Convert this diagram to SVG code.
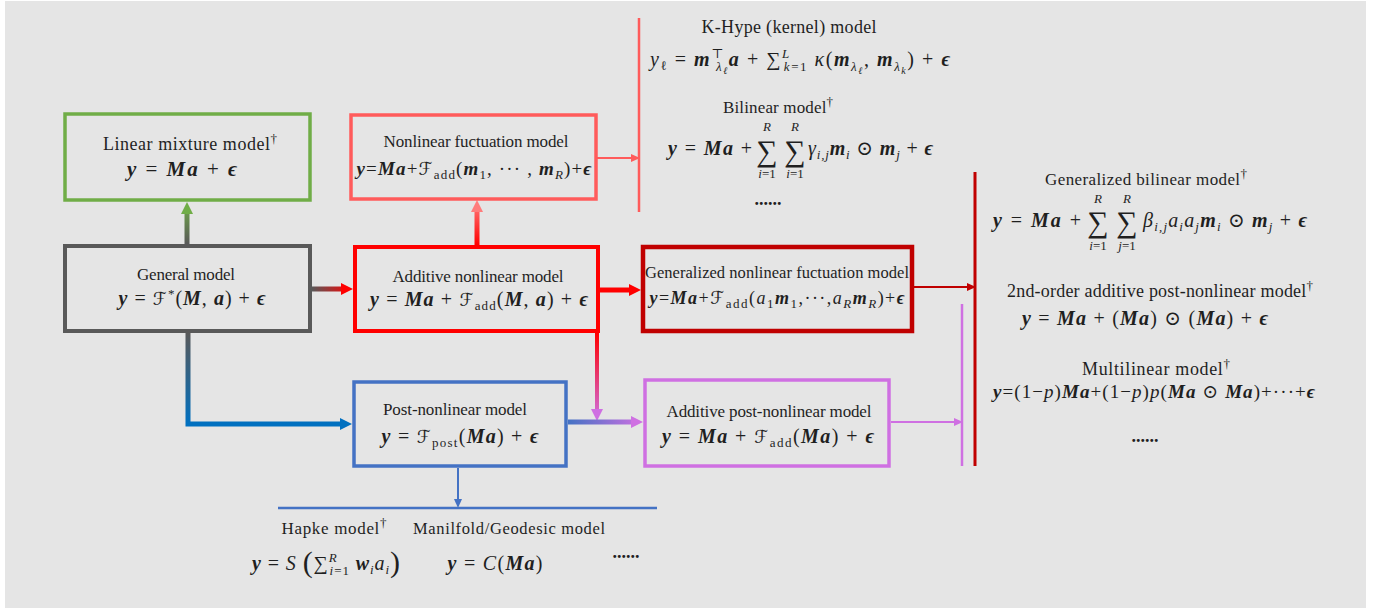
<svg xmlns="http://www.w3.org/2000/svg" width="1379" height="610" viewBox="0 0 1379 610">
<style>
text{font-family:"Liberation Serif","DejaVu Serif","Times New Roman",serif;fill:#1f1f1f}
.t{font-size:17px;text-anchor:middle}
.m{font-size:20px;text-anchor:middle}
.st{text-anchor:start}
.en{text-anchor:end}
.b{font-weight:bold;font-style:italic}
.i{font-style:italic}
.s{font-size:13px}
.ss{font-size:10px}
.cal{font-family:"DejaVu Serif","DejaVu Sans",serif;font-style:normal;font-size:18px}
.sum{font-size:30px}
.box{fill:none}
.dots{font-weight:bold;font-size:18px}
</style>
<defs>
<marker id="hG" viewBox="0 0 12 12" refX="0" refY="6" markerWidth="12" markerHeight="12" markerUnits="userSpaceOnUse" orient="auto"><path d="M0,0 L12,6 L0,12 z" fill="#70ad47"/></marker>
<marker id="hR" viewBox="0 0 12 12" refX="0" refY="6" markerWidth="12" markerHeight="12" markerUnits="userSpaceOnUse" orient="auto"><path d="M0,0 L12,6 L0,12 z" fill="#f00"/></marker>
<marker id="hLR" viewBox="0 0 12 12" refX="0" refY="6" markerWidth="12" markerHeight="12" markerUnits="userSpaceOnUse" orient="auto"><path d="M0,0 L12,6 L0,12 z" fill="#ff7c7c"/></marker>
<marker id="hB" viewBox="0 0 12 12" refX="0" refY="6" markerWidth="12" markerHeight="12" markerUnits="userSpaceOnUse" orient="auto"><path d="M0,0 L12,6 L0,12 z" fill="#0070c0"/></marker>
<marker id="hV" viewBox="0 0 12 12" refX="0" refY="6" markerWidth="12" markerHeight="12" markerUnits="userSpaceOnUse" orient="auto"><path d="M0,0 L12,6 L0,12 z" fill="#cf70e2"/></marker>
<marker id="sLR" viewBox="0 0 9 8" refX="0" refY="4" markerWidth="9" markerHeight="8" markerUnits="userSpaceOnUse" orient="auto"><path d="M0,0 L9,4 L0,8 z" fill="#ff5b5b"/></marker>
<marker id="sDR" viewBox="0 0 9 8" refX="0" refY="4" markerWidth="9" markerHeight="8" markerUnits="userSpaceOnUse" orient="auto"><path d="M0,0 L9,4 L0,8 z" fill="#c00000"/></marker>
<marker id="sV" viewBox="0 0 9 8" refX="0" refY="4" markerWidth="9" markerHeight="8" markerUnits="userSpaceOnUse" orient="auto"><path d="M0,0 L9,4 L0,8 z" fill="#cf70e2"/></marker>
<marker id="sB" viewBox="0 0 9 8" refX="0" refY="4" markerWidth="9" markerHeight="8" markerUnits="userSpaceOnUse" orient="auto"><path d="M0,0 L9,4 L0,8 z" fill="#4472c4"/></marker>
<linearGradient id="gGL" gradientUnits="userSpaceOnUse" x1="0" y1="244" x2="0" y2="202"><stop offset="0" stop-color="#595959"/><stop offset="1" stop-color="#70ad47"/></linearGradient>
<linearGradient id="gGR" gradientUnits="userSpaceOnUse" x1="312" y1="0" x2="353" y2="0"><stop offset="0" stop-color="#595959"/><stop offset="1" stop-color="#ff0000"/></linearGradient>
<linearGradient id="gRL" gradientUnits="userSpaceOnUse" x1="0" y1="245" x2="0" y2="200"><stop offset="0" stop-color="#ff0000"/><stop offset="1" stop-color="#ff8080"/></linearGradient>
<linearGradient id="gRV" gradientUnits="userSpaceOnUse" x1="0" y1="333" x2="0" y2="420"><stop offset="0" stop-color="#ff0000"/><stop offset="1" stop-color="#cf70e2"/></linearGradient>
<linearGradient id="gGB" gradientUnits="userSpaceOnUse" x1="0" y1="333" x2="0" y2="424"><stop offset="0" stop-color="#595959"/><stop offset="1" stop-color="#0070c0"/></linearGradient>
<linearGradient id="gBV" gradientUnits="userSpaceOnUse" x1="568" y1="0" x2="643" y2="0"><stop offset="0" stop-color="#4472c4"/><stop offset="1" stop-color="#cf70e2"/></linearGradient>
</defs>
<rect x="5" y="1" width="1361" height="607" fill="#e5e5e5"/>

<g id="connectors" fill="none">
<line x1="187" y1="244" x2="187" y2="214" stroke="url(#gGL)" stroke-width="5" marker-end="url(#hG)"/>
<line x1="312" y1="289" x2="341" y2="289" stroke="url(#gGR)" stroke-width="5" marker-end="url(#hR)"/>
<line x1="477" y1="245" x2="477" y2="212" stroke="url(#gRL)" stroke-width="5" marker-end="url(#hLR)"/>
<line x1="600" y1="290" x2="629" y2="290" stroke="#f00" stroke-width="5" marker-end="url(#hR)"/>
<line x1="597" y1="333" x2="597" y2="409" stroke="url(#gRV)" stroke-width="4" marker-end="url(#hV)"/>
<path d="M188,333 V424 H340" stroke="url(#gGB)" stroke-width="5" marker-end="url(#hB)"/>
<line x1="568" y1="422" x2="631" y2="422" stroke="url(#gBV)" stroke-width="5" marker-end="url(#hV)"/>
<line x1="597" y1="158" x2="631" y2="158" stroke="#ff5b5b" stroke-width="2" marker-end="url(#sLR)"/>
<line x1="914" y1="287" x2="967" y2="287" stroke="#c00000" stroke-width="2" marker-end="url(#sDR)"/>
<line x1="891" y1="422" x2="954" y2="422" stroke="#cf70e2" stroke-width="2" marker-end="url(#sV)"/>
<line x1="458" y1="468" x2="458" y2="499" stroke="#4472c4" stroke-width="2" marker-end="url(#sB)"/>
<line x1="639" y1="18" x2="639" y2="212" stroke="#ff5b5b" stroke-width="2.5"/>
<line x1="975" y1="172" x2="975" y2="466" stroke="#c00000" stroke-width="3"/>
<line x1="962" y1="304" x2="962" y2="466" stroke="#cf70e2" stroke-width="2.5"/>
<line x1="278" y1="508" x2="657" y2="508" stroke="#4472c4" stroke-width="2.5"/>
</g>

<g id="linear">
<rect class="box" x="65" y="114" width="245" height="86" stroke="#70ad47" stroke-width="3.5"/>
<text class="t" x="190" y="150" style="font-size:18px" textLength="174">Linear mixture model<tspan class="s" dy="-7">†</tspan></text>
<text class="m" x="182" y="176" style="font-size:21px" textLength="110"><tspan class="b">y</tspan> = <tspan class="b">Ma</tspan> + <tspan class="b">ϵ</tspan></text>
</g>

<g id="general">
<rect class="box" x="65" y="246" width="245" height="85" stroke="#595959" stroke-width="4"/>
<text class="t" x="186" y="280" textLength="98">General model</text>
<text class="m" x="192" y="305" textLength="147"><tspan class="b">y</tspan> = <tspan class="cal">ℱ</tspan><tspan class="s" dy="-7">*</tspan><tspan dy="7">(</tspan><tspan class="b">M</tspan>, <tspan class="b">a</tspan>) + <tspan class="b">ϵ</tspan></text>
</g>

<g id="nonlinear-fluctuation">
<rect class="box" x="351" y="115" width="245" height="84" stroke="#ff5b5b" stroke-width="3.5"/>
<text class="t" x="476" y="147" textLength="185">Nonlinear fuctuation model</text>
<text class="m" x="474" y="175" style="font-size:19px" textLength="235"><tspan class="b">y</tspan>=<tspan class="b">Ma</tspan>+<tspan class="cal">ℱ</tspan><tspan class="s" dy="4">add</tspan><tspan dy="-4">(</tspan><tspan class="b">m</tspan><tspan class="s" dy="4">1</tspan><tspan dy="-4">, ··· , </tspan><tspan class="b">m</tspan><tspan class="s i" dy="4">R</tspan><tspan dy="-4">)+</tspan><tspan class="b">ϵ</tspan></text>
</g>

<g id="additive-nonlinear">
<rect class="box" x="355" y="247" width="243" height="84" stroke="#ff0000" stroke-width="4"/>
<text class="t" x="478" y="282" textLength="171">Additive nonlinear model</text>
<text class="m" x="479" y="306" textLength="218"><tspan class="b">y</tspan> = <tspan class="b">Ma</tspan> + <tspan class="cal">ℱ</tspan><tspan class="s" dy="4">add</tspan><tspan dy="-4">(</tspan><tspan class="b">M</tspan>, <tspan class="b">a</tspan>) + <tspan class="b">ϵ</tspan></text>
</g>

<g id="generalized-nonlinear-fluctuation">
<rect class="box" x="643" y="247" width="269" height="84" stroke="#c00000" stroke-width="4.5"/>
<text class="t" x="777" y="278" style="font-size:16.5px" textLength="264">Generalized nonlinear fuctuation model</text>
<text class="m" x="777" y="304" style="font-size:18px" textLength="255"><tspan class="b">y</tspan>=<tspan class="b">Ma</tspan>+<tspan class="cal">ℱ</tspan><tspan class="s" dy="4">add</tspan><tspan dy="-4">(</tspan><tspan class="i">a</tspan><tspan class="s" dy="4">1</tspan><tspan class="b" dy="-4">m</tspan><tspan class="s" dy="4">1</tspan><tspan dy="-4">,···,</tspan><tspan class="i">a</tspan><tspan class="s i" dy="4">R</tspan><tspan class="b" dy="-4">m</tspan><tspan class="s i" dy="4">R</tspan><tspan dy="-4">)+</tspan><tspan class="b">ϵ</tspan></text>
</g>

<g id="post-nonlinear">
<rect class="box" x="354" y="382" width="212" height="84" stroke="#4472c4" stroke-width="3.5"/>
<text class="t" x="455" y="415" textLength="144">Post-nonlinear model</text>
<text class="m" x="460" y="443" textLength="157"><tspan class="b">y</tspan> = <tspan class="cal">ℱ</tspan><tspan class="s" dy="4">post</tspan><tspan dy="-4">(</tspan><tspan class="b">Ma</tspan>) + <tspan class="b">ϵ</tspan></text>
</g>

<g id="additive-post-nonlinear">
<rect class="box" x="645" y="380" width="244" height="86" stroke="#cf70e2" stroke-width="3.5"/>
<text class="t" x="769" y="417" textLength="205">Additive post-nonlinear model</text>
<text class="m" x="768" y="443" textLength="212"><tspan class="b">y</tspan> = <tspan class="b">Ma</tspan> + <tspan class="cal">ℱ</tspan><tspan class="s" dy="4">add</tspan><tspan dy="-4">(</tspan><tspan class="b">Ma</tspan>) + <tspan class="b">ϵ</tspan></text>
</g>

<g id="khype">
<text class="t" x="789" y="33" style="font-size:18px" textLength="175">K-Hype (kernel) model</text>
<text class="m" x="800" y="66" textLength="300"><tspan class="i">y</tspan><tspan class="s" dy="4">ℓ</tspan><tspan dy="-4"> = </tspan><tspan class="b">m</tspan><tspan class="s" dy="-8">⊤</tspan><tspan class="s i" dx="-9" dy="13">λ</tspan><tspan class="ss i" dy="3">ℓ</tspan><tspan class="b" dy="-8">a</tspan> + ∑<tspan class="s i" dy="-8">L</tspan><tspan class="s" dx="-7" dy="13"><tspan class="i">k</tspan>=1</tspan><tspan class="i" dy="-5"> κ</tspan>(<tspan class="b">m</tspan><tspan class="s i" dy="5">λ</tspan><tspan class="ss i" dy="3">ℓ</tspan><tspan dy="-8">, </tspan><tspan class="b">m</tspan><tspan class="s i" dy="5">λ</tspan><tspan class="ss i" dy="3">k</tspan><tspan dy="-8">) + </tspan><tspan class="b">ϵ</tspan></text>
</g>

<g id="bilinear">
<text class="t" x="778" y="113" textLength="110">Bilinear model<tspan class="s" dy="-7">†</tspan></text>
<text class="m en" x="752" y="155" textLength="84"><tspan class="b">y</tspan> = <tspan class="b">Ma</tspan> +</text>
<text class="m"><tspan class="sum" x="767" y="161">∑</tspan><tspan class="sum" x="795" y="161">∑</tspan><tspan class="s i" x="767" y="131">R</tspan><tspan class="s i" x="795" y="131">R</tspan><tspan class="s" x="767" y="178"><tspan class="i">i</tspan>=1</tspan><tspan class="s" x="795" y="178"><tspan class="i">i</tspan>=1</tspan></text>
<text class="m st" x="808" y="155" textLength="125"><tspan class="i">γ</tspan><tspan class="s i" dy="4">i,j</tspan><tspan class="b" dy="-4">m</tspan><tspan class="s i" dy="4">i</tspan><tspan dy="-4"> ⊙ </tspan><tspan class="b">m</tspan><tspan class="s i" dy="4">j</tspan><tspan dy="-4"> + </tspan><tspan class="b">ϵ</tspan></text>
<text class="m dots" x="768" y="205">......</text>
</g>

<g id="generalized-bilinear">
<text class="t" x="1146" y="185" textLength="202">Generalized bilinear model<tspan class="s" dy="-7">†</tspan></text>
<text class="m en" x="1081" y="227" textLength="88"><tspan class="b">y</tspan> = <tspan class="b">Ma</tspan> +</text>
<text class="m"><tspan class="sum" x="1098" y="232">∑</tspan><tspan class="sum" x="1127" y="232">∑</tspan><tspan class="s i" x="1098" y="203">R</tspan><tspan class="s i" x="1127" y="203">R</tspan><tspan class="s" x="1098" y="250"><tspan class="i">i</tspan>=1</tspan><tspan class="s" x="1127" y="250"><tspan class="i">j</tspan>=1</tspan></text>
<text class="m st" x="1143" y="227" textLength="164"><tspan class="i">β</tspan><tspan class="s i" dy="4">i,j</tspan><tspan class="i" dy="-4">a</tspan><tspan class="s i" dy="4">i</tspan><tspan class="i" dy="-4">a</tspan><tspan class="s i" dy="4">j</tspan><tspan class="b" dy="-4">m</tspan><tspan class="s i" dy="4">i</tspan><tspan dy="-4"> ⊙ </tspan><tspan class="b">m</tspan><tspan class="s i" dy="4">j</tspan><tspan dy="-4"> + </tspan><tspan class="b">ϵ</tspan></text>
</g>

<g id="second-order">
<text class="t" x="1160" y="297" style="font-size:18px" textLength="306">2nd-order additive post-nonlinear model<tspan class="s" dy="-7">†</tspan></text>
<text class="m" x="1145" y="325" textLength="246"><tspan class="b">y</tspan> = <tspan class="b">Ma</tspan> + (<tspan class="b">Ma</tspan>) ⊙ (<tspan class="b">Ma</tspan>) + <tspan class="b">ϵ</tspan></text>
</g>

<g id="multilinear">
<text class="t" x="1156" y="375" style="font-size:18px" textLength="148">Multilinear model<tspan class="s" dy="-7">†</tspan></text>
<text class="m" x="1154" y="398" style="font-size:19px" textLength="322"><tspan class="b">y</tspan>=(1−<tspan class="i">p</tspan>)<tspan class="b">Ma</tspan>+(1−<tspan class="i">p</tspan>)<tspan class="i">p</tspan>(<tspan class="b">Ma</tspan> ⊙ <tspan class="b">Ma</tspan>)+···+<tspan class="b">ϵ</tspan></text>
<text class="m dots" x="1145" y="442">......</text>
</g>

<g id="hapke">
<text class="t" x="334" y="534" textLength="105">Hapke model<tspan class="s" dy="-7">†</tspan></text>
<text class="m st" x="252" y="570" textLength="148"><tspan class="b">y</tspan> = <tspan class="i">S</tspan> <tspan style="font-size:30px" dy="2">(</tspan><tspan dy="-2">∑</tspan><tspan class="s i" dy="-8">R</tspan><tspan class="s" dx="-8" dy="13"><tspan class="i">i</tspan>=1</tspan><tspan class="b" dy="-5"> w</tspan><tspan class="s i" dy="4">i</tspan><tspan class="i" dy="-4">a</tspan><tspan class="s i" dy="4">i</tspan><tspan style="font-size:30px" dy="-2">)</tspan></text>
</g>

<g id="manifold">
<text class="t" x="509" y="534" style="font-size:16.5px" textLength="192">Manilfold/Geodesic model</text>
<text class="m" x="495" y="570" textLength="95"><tspan class="b">y</tspan> = <tspan class="i">C</tspan>(<tspan class="b">Ma</tspan>)</text>
<text class="m dots" x="626" y="558">......</text>
</g>
</svg>
